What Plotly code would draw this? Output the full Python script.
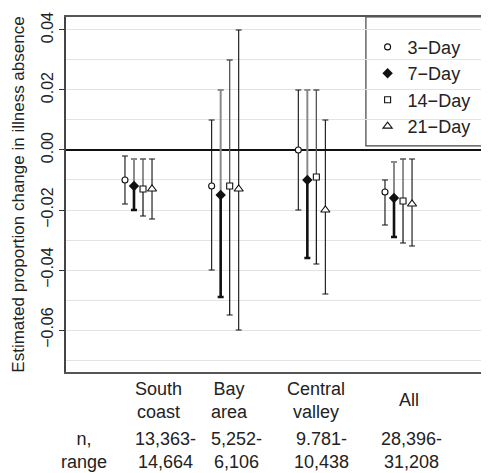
import plotly.graph_objects as go

regions = ["South<br>coast", "Bay<br>area", "Central<br>valley", "All"]
n_ranges = ["13,363-<br>14,664", "5,252-<br>6,106", "9.781-<br>10,438", "28,396-<br>31,208"]
series = ["3\u2212Day", "7\u2212Day", "14\u2212Day", "21\u2212Day"]

est_3 = [-0.010, -0.012, 0.000, -0.014]
lo_3 = [-0.018, -0.040, -0.020, -0.025]
hi_3 = [-0.002, 0.010, 0.020, -0.010]

est_7 = [-0.012, -0.015, -0.010, -0.016]
lo_7 = [-0.020, -0.049, -0.036, -0.029]
hi_7 = [-0.003, 0.020, 0.020, -0.004]

est_14 = [-0.013, -0.012, -0.009, -0.017]
lo_14 = [-0.022, -0.055, -0.038, -0.031]
hi_14 = [-0.003, 0.030, 0.020, -0.003]

est_21 = [-0.013, -0.013, -0.020, -0.018]
lo_21 = [-0.023, -0.060, -0.048, -0.032]
hi_21 = [-0.003, 0.040, 0.010, -0.003]

y_ticks = [-0.06, -0.04, -0.02, 0.00, 0.02, 0.04]
y_ticktext = ["\u22120.06", "\u22120.04", "\u22120.02", "0.00", "0.02", "0.04"]

FONT = "Liberation Sans, Arial, sans-serif"
TXT = "#222222"
STEP = 0.104
offsets = [-1.5 * STEP, -0.5 * STEP, 0.5 * STEP, 1.5 * STEP]
groups = [1, 2, 3, 4]


def xs(k):
    return [g + offsets[k] for g in groups]


def up(est, hi):
    return [h - e for e, h in zip(est, hi)]


def down(est, lo):
    return [e - l for e, l in zip(est, lo)]


fig = go.Figure()
hidden = dict(size=1, opacity=0, color="#111")

# 3-Day
fig.add_trace(go.Scatter(
    x=xs(0), y=est_3, mode="markers", name=series[0], legendgroup="a",
    marker=dict(symbol="circle", size=6, color="white", line=dict(width=1.1, color="#111")),
    error_y=dict(type="data", symmetric=False, array=up(est_3, hi_3),
                 arrayminus=down(est_3, lo_3), color="#111", thickness=1.1, width=3),
))

# 7-Day lower part (black thick)
fig.add_trace(go.Scatter(
    x=xs(1), y=est_7, mode="markers", showlegend=False, hoverinfo="skip",
    marker=hidden,
    error_y=dict(type="data", symmetric=False, array=[0] * 4,
                 arrayminus=down(est_7, lo_7), color="#111", thickness=2.6, width=3),
))
# 7-Day upper part (gray)
fig.add_trace(go.Scatter(
    x=xs(1), y=est_7, mode="markers", name=series[1], legendgroup="b",
    marker=dict(symbol="diamond", size=8, color="#111"),
    error_y=dict(type="data", symmetric=False, array=up(est_7, hi_7),
                 arrayminus=[0] * 4, color="#8a8a8a", thickness=2, width=3),
))

# 14-Day lower
fig.add_trace(go.Scatter(
    x=xs(2), y=est_14, mode="markers", showlegend=False, hoverinfo="skip",
    marker=hidden,
    error_y=dict(type="data", symmetric=False, array=[0] * 4,
                 arrayminus=down(est_14, lo_14), color="#111", thickness=1.2, width=3),
))
# 14-Day upper
fig.add_trace(go.Scatter(
    x=xs(2), y=est_14, mode="markers", name=series[2], legendgroup="c",
    marker=dict(symbol="square", size=6, color="white", line=dict(width=1.1, color="#111")),
    error_y=dict(type="data", symmetric=False, array=up(est_14, hi_14),
                 arrayminus=[0] * 4, color="#555", thickness=1.3, width=3),
))

# 21-Day
fig.add_trace(go.Scatter(
    x=xs(3), y=est_21, mode="markers", name=series[3], legendgroup="d",
    marker=dict(symbol="triangle-up", size=8, color="white", line=dict(width=1.1, color="#111")),
    error_y=dict(type="data", symmetric=False, array=up(est_21, hi_21),
                 arrayminus=down(est_21, lo_21), color="#111", thickness=1.1, width=3),
))

annotations = []
cat_dx = [0.225, 0.049, 0.052, 0.121]
for g, lab, dx in zip(groups, regions, cat_dx):
    annotations.append(dict(x=g + dx, y=-0.079, xref="x", yref="paper", text=lab,
                            showarrow=False, xanchor="center", yanchor="middle",
                            font=dict(family=FONT, size=18, color=TXT)))
n_dx = [0.306, 0.136, 0.11, 0.144]
for g, lab, dx in zip(groups, n_ranges, n_dx):
    annotations.append(dict(x=g + dx, y=-0.222, xref="x", yref="paper", text=lab,
                            showarrow=False, xanchor="center", yanchor="middle",
                            font=dict(family=FONT, size=18, color=TXT)))
annotations.append(dict(x=0.371, y=-0.222, xref="x", yref="paper", text="n,<br>range",
                        showarrow=False, xanchor="center", yanchor="middle",
                        font=dict(family=FONT, size=18, color=TXT)))

# page body adds an 8px offset, so the figure is sized/margined to compensate
fig.update_layout(
    width=481, height=465,
    margin=dict(l=58, r=0, t=9, b=101),
    paper_bgcolor="white", plot_bgcolor="white",
    font=dict(family=FONT, color=TXT),
    showlegend=True,
    legend=dict(x=0.713, y=0.967, xanchor="left", yanchor="top",
                bgcolor="rgba(0,0,0,0)", borderwidth=0,
                font=dict(family=FONT, size=18, color=TXT),
                tracegroupgap=6, traceorder="normal"),
    annotations=annotations,
    shapes=[dict(type="rect", xref="paper", yref="paper", x0=0.709, x1=1.02,
                 y0=0.637, y1=1.0, line=dict(color="#444", width=1.2),
                 fillcolor="white", layer="below")],
    xaxis=dict(range=[0.1635, 5.044], showticklabels=False, ticks="",
               showgrid=False, zeroline=False, showline=True, mirror=True,
               linecolor="#555", linewidth=1.5),
    yaxis=dict(range=[-0.074, 0.04433], tickmode="array", tickvals=y_ticks,
               ticktext=y_ticktext, tickangle=-90, ticks="outside", ticklen=5,
               tickcolor="#333", tickwidth=1,
               tickfont=dict(family=FONT, size=16, color=TXT),
               showgrid=True, gridcolor="#e3e3e3", gridwidth=1,
               minor=dict(dtick=0.01, tick0=0, showgrid=True, gridcolor="#e3e3e3",
                          gridwidth=1, ticks=""),
               zeroline=True, zerolinecolor="#111", zerolinewidth=1.5,
               showline=True, linecolor="#444", linewidth=1.5, mirror=False,
               title=dict(text="Estimated proportion change in illness absence",
                          font=dict(family=FONT, size=17, color=TXT), standoff=10)),
)

fig.write_html("out.html")
